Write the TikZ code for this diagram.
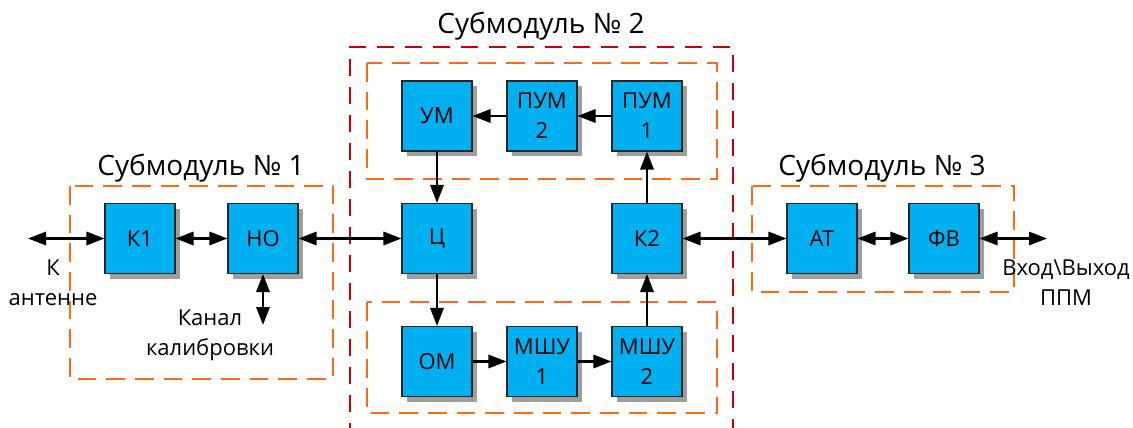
\documentclass[tikz,border=0pt]{standalone}
\usepackage{fontspec}
\setmainfont{Open Sans}
\usetikzlibrary{arrows.meta,positioning,shadows}
\definecolor{blockblue}{HTML}{00B0F0}
\definecolor{dashorange}{HTML}{FF6A10}
\definecolor{dashred}{HTML}{CC0000}

\begin{document}
\begin{tikzpicture}[
  x=0.75pt, y=-0.75pt,
  every node/.style={font=\fontsize{16.5}{22.5}\selectfont},
  >={Triangle[length=13.5pt,width=10pt]},
  block/.style={draw=black!85, line width=0.8pt, fill=blockblue,
    minimum size=52.5pt, inner sep=0pt, align=center,
    drop shadow={shadow xshift=3.75pt, shadow yshift=-3.75pt,
      fill=black!38, opacity=1}},
  link/.style={line width=1.6pt},
  orangebox/.style={dashorange, line width=2.2pt, dash pattern=on 14pt off 7.5pt},
  redbox/.style={dashred, line width=2.2pt, dash pattern=on 13pt off 8pt},
  title/.style={font=\fontsize{21}{25}\selectfont}
]

\path[use as bounding box] (0,0) rectangle (1133,428);

% Submodule frames.
\draw[orangebox] (70,186) rectangle (333,379);
\draw[redbox] (350,440) -- (350,47) -- (733,47) -- (733,440);
\draw[orangebox] (367,63) rectangle (717,179);
\draw[orangebox] (367,302) rectangle (717,413);
\draw[orangebox] (752,186) rectangle (1014,292);

\node[title] (sub1) at (201,168) {Субмодуль № 1};
\node[title] (sub2) at (541,26) {Субмодуль № 2};
\node[title] (sub3) at (882,168) {Субмодуль № 3};

% Blocks.
\node[block] (k1)    at (140,238.5) {К1};
\node[block] (ho)    at (263,238.5) {НО};
\node[block] (um)    at (437,116)   {УМ};
\node[block] (pum2)  at (542,116)   {ПУМ\\2};
\node[block] (pum1)  at (647,116)   {ПУМ\\1};
\node[block] (c)     at (437,238.5) {Ц};
\node[block] (k2)    at (647,238.5) {К2};
\node[block] (om)    at (437,361.5) {ОМ};
\node[block] (mshu1) at (542,361.5) {МШУ\\1};
\node[block] (mshu2) at (647,361.5) {МШУ\\2};
\node[block] (at)    at (822,238.5) {АТ};
\node[block] (fv)    at (944,238.5) {ФВ};

% Free ends and their labels.
\coordinate (ant) at (28,238.5);
\coordinate (cal) at (263,325);
\coordinate (io)  at (1047,238.5);
\node[align=center] (antlabel) at (53,283)  {К\\антенне};
\node[align=center] (callabel) at (210,335) {Канал\\калибровки};
\node[align=center] (iolabel)  at (1066,283) {Вход\textbackslash Выход\\ППМ};

% Connections.
\draw[link, <->] (ant) -- (k1.west);
\draw[link, <->] (k1) -- (ho);
\draw[link, <->] (ho.south) -- (cal);
\draw[link, <->] (ho) -- (c);
\draw[link, ->] (pum1) -- (pum2);
\draw[link, ->] (pum2) -- (um);
\draw[link, ->] (um) -- (c);
\draw[link, ->] (c) -- (om);
\draw[link, ->] (om) -- (mshu1);
\draw[link, ->] (mshu1) -- (mshu2);
\draw[link, ->] (mshu2) -- (k2);
\draw[link, ->] (k2) -- (pum1);
\draw[link, <->] (k2) -- (at);
\draw[link, <->] (at) -- (fv);
\draw[link, <->] (fv.east) -- (io);

\end{tikzpicture}
\end{document}
